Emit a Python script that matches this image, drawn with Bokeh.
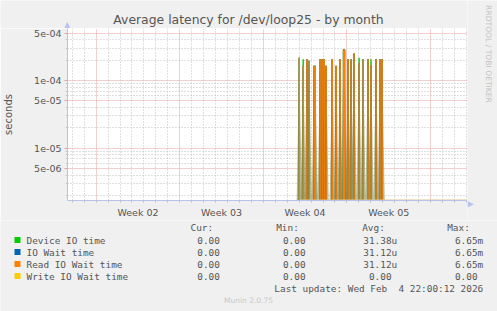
from bokeh.plotting import figure
from bokeh.models import Range1d, FixedTicker, CustomJSTickFormatter, ColumnDataSource
from bokeh.layouts import column, row
from bokeh.embed import file_html
from bokeh.resources import INLINE
from bokeh.core.properties import value
import math

# ---------------- data ----------------
# x in days since Monday 2026-01-05 00:00 (start of Week 02)
sample_days = [17.01, 17.34, 17.65, 17.84, 18.26, 18.35, 18.76, 18.93, 19.10, 19.26,
               19.77, 20.10, 20.43, 20.72, 20.80, 21.10, 21.35, 21.60, 22.02, 22.36,
               22.77, 23.02, 23.44, 23.78, 23.95]
device_io_time = [2.17e-4, 2.06e-4, 2.06e-4, 1.96e-4, 1.65e-4, 1.65e-4, 2.06e-4, 2.06e-4, 2.06e-4, 1.65e-4,
                  2.06e-4, 1.65e-4, 2.06e-4, 2.90e-4, 2.87e-4, 2.06e-4, 2.06e-4, 2.51e-4, 2.17e-4, 2.06e-4,
                  2.06e-4, 2.06e-4, 2.06e-4, 2.06e-4, 2.06e-4]
io_wait_time = [2.17e-4, 1.65e-4, 2.06e-4, 1.96e-4, 1.65e-4, 1.65e-4, 2.06e-4, 2.06e-4, 2.06e-4, 1.65e-4,
                2.06e-4, 1.65e-4, 2.06e-4, 2.87e-4, 2.87e-4, 2.06e-4, 2.06e-4, 2.51e-4, 1.80e-4, 2.06e-4,
                2.06e-4, 1.70e-4, 2.06e-4, 2.06e-4, 2.06e-4]
read_io_wait_time = list(io_wait_time)
write_io_wait_time = [0.0] * len(sample_days)

week_start_days = [0, 7, 14, 21, 28]
week_label_days = [3.5, 10.5, 17.5, 24.5]
week_labels = ["Week 02", "Week 03", "Week 04", "Week 05"]
y_major_ticks = [5e-6, 1e-5, 5e-5, 1e-4, 5e-4]

legend_names = ["Device IO time", "IO Wait time", "Read IO Wait time", "Write IO Wait time"]
legend_colors = ["#00cc00", "#0066b3", "#ff8000", "#ffcc00"]
cur_values = ["0.00", "0.00", "0.00", "0.00"]
min_values = ["0.00", "0.00", "0.00", "0.00"]
avg_values = ["31.38u", "31.12u", "31.12u", "0.00"]
max_values = ["6.65m", "6.65m", "6.65m", "0.00"]
column_headers = ["Cur:", "Min:", "Avg:", "Max:"]
last_update = "Last update: Wed Feb\u00a0 4 22:00:12 2026"
title_text = "Average latency for /dev/loop25 - by month"
watermark = "RRDTOOL / TOBI OETIKER"
version_text = "Munin 2.0.75"

# ---------------- layout constants ----------------
W = 497
LEFT_W = 467          # main column width (frame right edge at 467)
TITLE_H = 28
MAIN_H = 192          # frame 176 px + 16 px x-axis
UPPER_H = TITLE_H + MAIN_H
LEG_H = 311 - UPPER_H
FL, FB = 66, 16
X0, X1 = -2.40, 31.10
Y0, Y1 = 1.69e-6, 5.87e-4
BG = "#f0f0f0"
TXT = "#555555"
AXIS_C = "#b8c2f0"


def plain_fig(w, h, x0, y_top):
    f = figure(width=w, height=h, output_backend="svg", toolbar_location=None,
               x_range=Range1d(x0, x0 + w), y_range=Range1d(y_top + h, y_top),
               x_axis_location=None, y_axis_location=None, min_border=0,
               background_fill_color=BG, border_fill_color=BG, outline_line_color=None)
    f.grid.visible = False
    return f


# ---------------- title strip ----------------
tf = plain_fig(LEFT_W, TITLE_H, 0, 0)
tf.text(x=[248], y=[19], text=[title_text], text_font=value("DejaVu Sans"),
        text_font_size="12.4px", text_color=TXT, text_align="center", text_baseline="middle")
# arrow head on top of the y axis
tf.patch(x=[63.5, 70.0, 66.7], y=[28, 28, 21.5], fill_color=AXIS_C, line_color=None)

# ---------------- main chart ----------------
p = figure(width=LEFT_W, height=MAIN_H, output_backend="svg", toolbar_location=None,
           y_axis_type="log", x_range=Range1d(X0, X1), y_range=Range1d(Y0, Y1),
           min_border_left=FL, min_border_right=0, min_border_top=0, min_border_bottom=FB,
           background_fill_color="white", border_fill_color=BG, outline_line_color=None)

minor_days = [d for d in range(-2, 32) if d not in week_start_days]
p.xgrid.ticker = FixedTicker(ticks=week_start_days, minor_ticks=minor_days)
y_minor = []
for e in range(-6, -2):
    for k in range(2, 10):
        if k != 5:
            y_minor.append(k * 10.0 ** e)
p.ygrid.ticker = FixedTicker(ticks=y_major_ticks, minor_ticks=y_minor)
for g in (p.xgrid, p.ygrid):
    g.grid_line_color = "#e6a0a0"
    g.grid_line_dash = "1 1"
    g.grid_line_width = 1
    g.minor_grid_line_color = "#c0c0c0"
    g.minor_grid_line_dash = "1 2"
    g.minor_grid_line_width = 1

xa = p.xaxis[0]
xa.ticker = FixedTicker(ticks=week_label_days, minor_ticks=list(range(-2, 32)))
xa.major_label_overrides = {d: lab for d, lab in zip(week_label_days, week_labels)}
xa.major_tick_out = 0
xa.major_tick_in = 0
xa.minor_tick_out = 2
xa.minor_tick_in = 0
xa.minor_tick_line_color = "#bbbbbb"
xa.major_label_standoff = 4

ya = p.yaxis[0]
ya.ticker = FixedTicker(ticks=y_major_ticks, minor_ticks=y_minor)
ya.formatter = CustomJSTickFormatter(code="""
    const s = tick.toExponential(0);
    return s.replace(/e([+-])(\\d)$/, (m, a, b) => 'e' + a + '0' + b);
""")
ya.major_tick_out = 3
ya.major_tick_in = 0
ya.major_tick_line_color = "#e6a0a0"
ya.minor_tick_out = 2
ya.minor_tick_in = 0
ya.minor_tick_line_color = "#cccccc"
ya.major_label_standoff = 3
ya.axis_label = "seconds"
ya.axis_label_standoff = 17
ya.axis_label_text_font = "DejaVu Sans"
ya.axis_label_text_font_size = "10px"
ya.axis_label_text_font_style = "normal"
ya.axis_label_text_color = TXT

for ax in (xa, ya):
    ax.axis_line_color = AXIS_C
    ax.major_label_text_font = "DejaVu Sans"
    ax.major_label_text_font_size = "9.5px"
    ax.major_label_text_color = TXT

FLOOR = 1e-8
src = ColumnDataSource(dict(
    x=sample_days, floor=[FLOOR] * len(sample_days),
    dev=device_io_time, iow=io_wait_time, rd=read_io_wait_time))

# translucent olive wedges where the three lines rise and fall
half = 0.45
xs, ys = [], []
for d, a, b in zip(sample_days, device_io_time, read_io_wait_time):
    xs.append([d - half, d, d + half])
    ys.append([FLOOR, max(a, b), FLOOR])
p.patches(xs, ys, fill_color="#7a7f3c", fill_alpha=0.55, line_color=None)

p.segment(x0="x", y0="floor", x1="x", y1="dev", source=src, line_color=legend_colors[0], line_width=1.4)
p.segment(x0="x", y0="floor", x1="x", y1="iow", source=src, line_color=legend_colors[1], line_width=1.4)
p.segment(x0="x", y0="floor", x1="x", y1="rd", source=src, line_color=legend_colors[2], line_width=1.4)

# write IO wait (all zero) rests on the bottom of the log scale
p.line(x=[sample_days[0], X1], y=[Y0, Y0], line_color="#e2c88a", line_width=2)

# ---------------- right strip with the watermark ----------------
sf = plain_fig(W - LEFT_W, UPPER_H, LEFT_W, 0)
sf.text(x=[487.5], y=[53.5], text=[watermark], angle=-math.pi / 2,
        text_font=value("DejaVu Sans"), text_font_size="7.6px", text_color="#c4c4c4",
        text_align="center", text_baseline="middle")
# arrow head at the right end of the x axis
sf.patch(x=[467, 467, 473.5], y=[200.5, 207, 203.7], fill_color=AXIS_C, line_color=None)

# ---------------- legend ----------------
lg = plain_fig(W, LEG_H, 0, UPPER_H)
MONO = value("DejaVu Sans Mono")
FS = "9.4px"
CW = 5.66
row_y = [239.5 + 12 * i for i in range(len(legend_names))]
header_x = [190, 275.7, 361.7, 446.7]
col_end = [225.0, 310.7, 396.7, 482.7]

lg.text(x=header_x, y=[226.7] * 4, text=column_headers, text_font=MONO, text_font_size=FS,
        text_color=TXT, text_baseline="middle", text_align="left")
lg.rect(x=[17] * 4, y=row_y, width=6, height=6, fill_color=legend_colors, line_color=None)
lg.text(x=[26] * 4, y=row_y, text=legend_names, text_font=MONO, text_font_size=FS,
        text_color=TXT, text_baseline="middle", text_align="left")

vx, vy, vt = [], [], []
for ci, vals in enumerate([cur_values, min_values, avg_values, max_values]):
    for ri, s in enumerate(vals):
        end = col_end[ci] if s[-1].isalpha() else col_end[ci] - CW
        vx.append(end)
        vy.append(row_y[ri])
        vt.append(s)
lg.text(x=vx, y=vy, text=vt, text_font=MONO, text_font_size=FS,
        text_color=TXT, text_baseline="middle", text_align="right")
lg.text(x=[482.7], y=[287.7], text=[last_update], text_font=MONO, text_font_size=FS,
        text_color=TXT, text_baseline="middle", text_align="right")
lg.text(x=[248], y=[300.3], text=[version_text], text_font=value("DejaVu Sans"),
        text_font_size="7.5px", text_color="#c8c8c8", text_baseline="middle", text_align="center")

# wrapping the title strip in its own row keeps its frame independent of the chart's frame
layout = column(row(column(row(tf, spacing=0), p, spacing=0), sf, spacing=0), lg, spacing=0)
open("out.html", "w").write(file_html(layout, INLINE))
